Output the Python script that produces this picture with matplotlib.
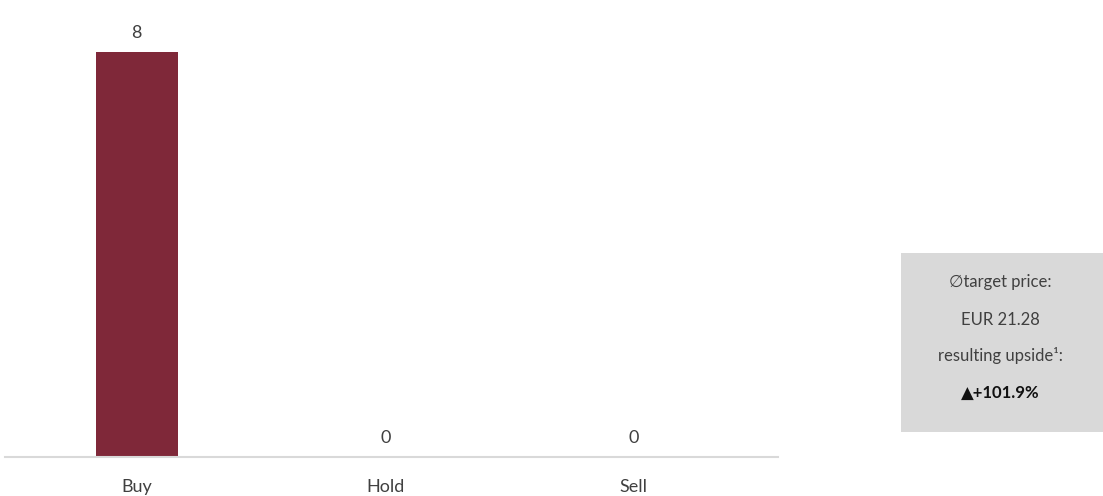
import matplotlib.pyplot as plt
from matplotlib.patches import Rectangle

categories = ["Buy", "Hold", "Sell"]
counts = [8, 0, 0]
box_lines = ["\u2205target price:", "EUR 21.28", "resulting upside\u00b9:", "\u25b2+101.9%"]

BAR_COLOR = "#7F2839"
TEXT_COLOR = "#404040"
GRID_GRAY = "#D9D9D9"

plt.rcParams['font.family'] = ['Lato', 'DejaVu Sans']

fig = plt.figure(figsize=(11.03, 4.96), dpi=100)
W, H = 1103, 496
ax = fig.add_axes([5 / W, 39 / H, 773 / W, 457 / H])

x = list(range(len(categories)))
ax.bar(x, counts, width=0.33, color=BAR_COLOR, zorder=2)
ax.set_xlim(-0.53, 2.58)
ax.set_ylim(0, 8 * 457 / 405)

for xi, v in zip(x, counts):
    ax.annotate(str(v), (xi, v), xytext=(0, 8), textcoords="offset points",
                ha="center", va="bottom", fontsize=13, color=TEXT_COLOR)

for s in ["top", "right", "left"]:
    ax.spines[s].set_visible(False)
ax.spines["bottom"].set_color(GRID_GRAY)
ax.spines["bottom"].set_linewidth(1.5)
ax.set_yticks([])
ax.set_xticks(x)
ax.set_xticklabels(categories, fontsize=13, color=TEXT_COLOR)
ax.tick_params(axis="x", length=0, pad=16)

# info box on the right
fig.patches.append(Rectangle((901 / W, (H - 432) / H), 202 / W, 179 / H,
                             transform=fig.transFigure, facecolor=GRID_GRAY,
                             edgecolor="none", zorder=0))
ys = [282, 320, 355, 393]
for txt, y in zip(box_lines, ys):
    last = txt.startswith("\u25b2")
    fig.text(1000 / W, 1 - y / H, txt, ha="center", va="center",
             fontsize=12, color="#111111" if last else TEXT_COLOR,
             fontweight="bold" if last else "normal")

fig.savefig("out.png", dpi=100)
